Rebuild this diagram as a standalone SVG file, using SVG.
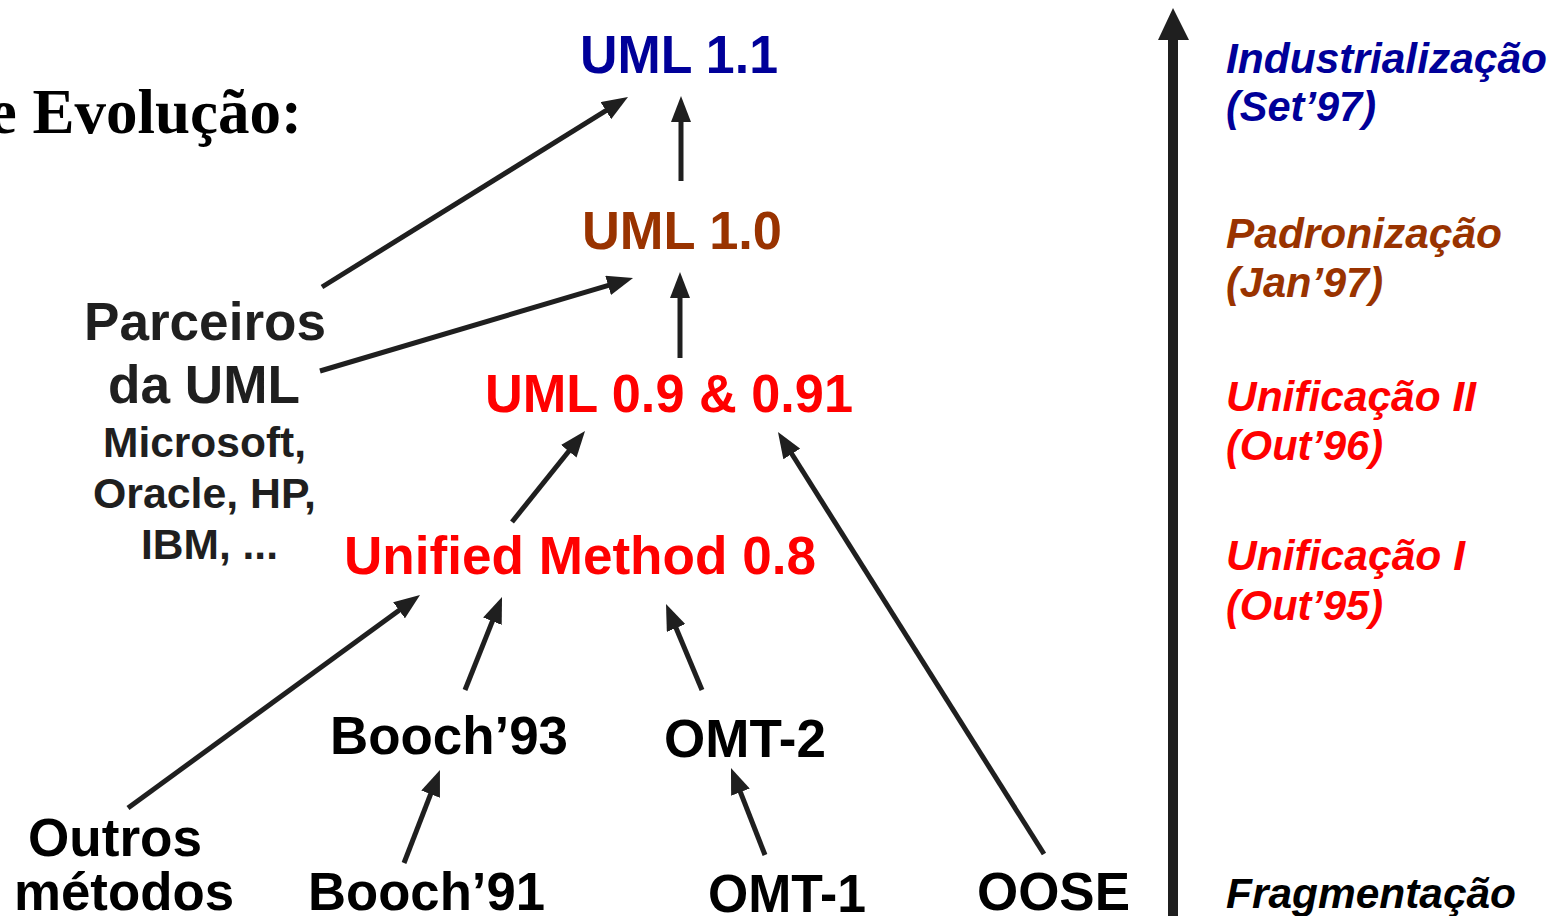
<svg xmlns="http://www.w3.org/2000/svg" width="1557" height="916" viewBox="0 0 1557 916">
<defs>
<style>
.t{font-family:"Liberation Sans",Arial,sans-serif;font-weight:bold;}
.c{text-anchor:middle;}
.s{font-size:53px;}
.m{font-size:42px;}
.r{font-family:"Liberation Sans",Arial,sans-serif;font-weight:bold;font-style:italic;font-size:42px;}
.blue{fill:#000099;}
.brown{fill:#993300;}
.red{fill:#ff0000;}
.dark{fill:#1f1f1f;}
.blk{fill:#000000;}
.conn line{stroke:#1f1f1f;stroke-width:5;fill:none;marker-end:url(#ah);}
</style>
<marker id="ah" markerUnits="userSpaceOnUse" markerWidth="26" markerHeight="20" refX="10" refY="10" orient="auto" viewBox="0 0 26 20">
<path d="M0,0 L26,10 L0,20 Z" fill="#1f1f1f"/>
</marker>
</defs>
<rect width="1557" height="916" fill="#ffffff"/>

<g id="title">
<text x="302" y="133" text-anchor="end" font-family="'Liberation Serif','Times New Roman',serif" font-weight="bold" font-size="63" fill="#000">e Evolução:</text>
</g>

<g id="uml11"><text class="t s blue" x="580" y="73" textLength="198" lengthAdjust="spacingAndGlyphs">UML 1.1</text></g>
<g id="uml10"><text class="t s brown" x="582" y="249" textLength="200" lengthAdjust="spacingAndGlyphs">UML 1.0</text></g>
<g id="uml09"><text class="t s red" x="485" y="412" textLength="368" lengthAdjust="spacingAndGlyphs">UML 0.9 &amp; 0.91</text></g>
<g id="um08"><text class="t s red" x="344" y="574" textLength="472" lengthAdjust="spacingAndGlyphs">Unified Method 0.8</text></g>

<g id="parceiros">
<text class="t s dark" x="84" y="340" textLength="242" lengthAdjust="spacingAndGlyphs">Parceiros</text>
<text class="t s dark" x="108" y="403" textLength="192" lengthAdjust="spacingAndGlyphs">da UML</text>
<text class="t m dark" x="103" y="457" textLength="203" lengthAdjust="spacingAndGlyphs">Microsoft,</text>
<text class="t m dark" x="93" y="508" textLength="223" lengthAdjust="spacingAndGlyphs">Oracle, HP,</text>
<text class="t m dark" x="141" y="559" textLength="137" lengthAdjust="spacingAndGlyphs">IBM, ...</text>
</g>

<g id="booch93"><text class="t s blk" x="330" y="754" textLength="238" lengthAdjust="spacingAndGlyphs">Booch’93</text></g>
<g id="omt2"><text class="t s blk" x="664" y="757" textLength="162" lengthAdjust="spacingAndGlyphs">OMT-2</text></g>
<g id="outros">
<text class="t s blk" x="28" y="856" textLength="174" lengthAdjust="spacingAndGlyphs">Outros</text>
<text class="t s blk" x="14" y="910" textLength="220" lengthAdjust="spacingAndGlyphs">métodos</text>
</g>
<g id="booch91"><text class="t s blk" x="308" y="910" textLength="237" lengthAdjust="spacingAndGlyphs">Booch’91</text></g>
<g id="omt1"><text class="t s blk" x="708" y="912" textLength="158" lengthAdjust="spacingAndGlyphs">OMT-1</text></g>
<g id="oose"><text class="t s blk" x="977" y="910" textLength="153" lengthAdjust="spacingAndGlyphs">OOSE</text></g>

<g id="timeline">
<rect x="1168" y="38" width="10" height="878" fill="#1f1f1f"/>
<polygon points="1158,40 1173,8 1189,40" fill="#1f1f1f"/>
</g>

<g id="phases">
<text class="r blue" x="1226" y="73" textLength="321" lengthAdjust="spacingAndGlyphs">Industrialização</text>
<text class="r blue" x="1226" y="121" textLength="150" lengthAdjust="spacingAndGlyphs">(Set’97)</text>
<text class="r brown" x="1226" y="248" textLength="276" lengthAdjust="spacingAndGlyphs">Padronização</text>
<text class="r brown" x="1226" y="297" textLength="157" lengthAdjust="spacingAndGlyphs">(Jan’97)</text>
<text class="r red" x="1226" y="411" textLength="250" lengthAdjust="spacingAndGlyphs">Unificação II</text>
<text class="r red" x="1226" y="460" textLength="157" lengthAdjust="spacingAndGlyphs">(Out’96)</text>
<text class="r red" x="1226" y="570" textLength="239" lengthAdjust="spacingAndGlyphs">Unificação I</text>
<text class="r red" x="1226" y="620" textLength="157" lengthAdjust="spacingAndGlyphs">(Out’95)</text>
<text class="r blk" x="1226" y="908" textLength="290" lengthAdjust="spacingAndGlyphs">Fragmentação</text>
</g>

<g id="connectors" class="conn">
<line x1="322" y1="287" x2="614.4" y2="105.4"/>
<line x1="320" y1="371" x2="617.7" y2="282.6"/>
<line x1="681" y1="181" x2="681" y2="112"/>
<line x1="680" y1="358" x2="680" y2="288"/>
<line x1="512" y1="522" x2="575" y2="443.5"/>
<line x1="1044" y1="854" x2="786.5" y2="445.5"/>
<line x1="128" y1="808" x2="407.1" y2="604.4"/>
<line x1="465" y1="690" x2="496.1" y2="611.9"/>
<line x1="702" y1="690" x2="672.2" y2="618.8"/>
<line x1="404" y1="863" x2="434.2" y2="784.9"/>
<line x1="765" y1="855" x2="736.8" y2="782.9"/>
</g>
</svg>
